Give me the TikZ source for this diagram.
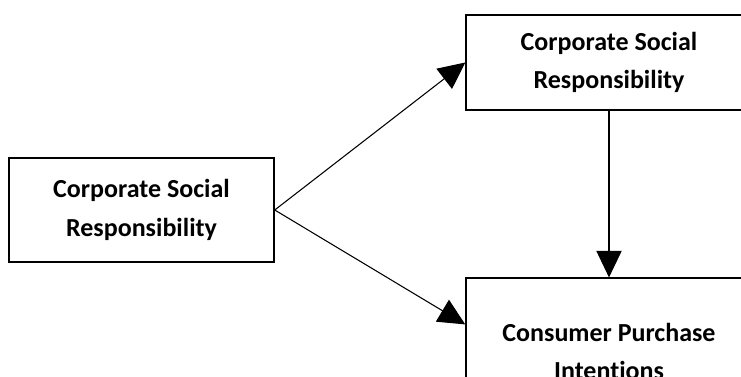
\documentclass[tikz,border=0pt]{standalone}
\usepackage{fontspec}
\setmainfont{Carlito}[Ligatures=NoCommon]
\usetikzlibrary{arrows.meta}
\usetikzlibrary{positioning}
\usetikzlibrary{calc}

\begin{document}
\begin{tikzpicture}[x=0.75pt,y=-0.75pt,
    box/.style={draw,line width=1.1pt,align=center,inner sep=0pt,
      font=\fontsize{19.5}{29}\selectfont\bfseries},
    link/.style={line width=0.8pt,-{Triangle[length=20pt,width=19pt]}}]
  \clip (0,0) rectangle (741,377);
  %%
  \node[box,minimum width=198.75pt,minimum height=78pt](csr) at (141.5,210)
    {Corporate Social\\Responsibility};
  \node[box,minimum width=214.5pt,minimum height=71.25pt](csrtop) at (609,62.5)
    {Corporate Social\\Responsibility};
  \node[box,minimum width=214.5pt,minimum height=110pt](cpi) at (609,351.5)
    {Consumer Purchase\\Intentions};
  \coordinate (cpiin) at ($(cpi.north west)+(0,47)$);
  %%
  \draw[link](csr.east)--(csrtop.west);
  \draw[link](csr.east)--(cpiin);
  \draw[link](csrtop.south)--(cpi.north);
\end{tikzpicture}
\end{document}
